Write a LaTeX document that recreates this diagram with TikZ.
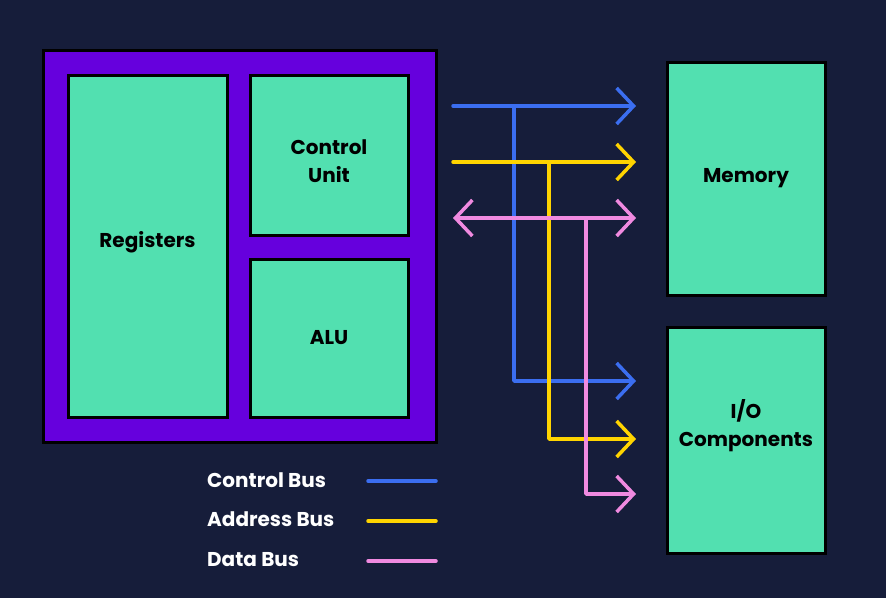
\documentclass[tikz,border=0pt]{standalone}
\usepackage{fontspec}
\setmainfont{Poppins}
\usetikzlibrary{arrows.meta}
\definecolor{navy}{HTML}{161D3A}
\definecolor{cpupurple}{HTML}{6600DD}
\definecolor{boxgreen}{HTML}{52E0B0}
\definecolor{busblue}{HTML}{3B6EF0}
\definecolor{busyellow}{HTML}{FFD400}
\definecolor{buspink}{HTML}{F08AE0}
\newcommand{\tipsize}{Straight Barb[length=17pt,width=36pt]}

\begin{document}
\begin{tikzpicture}[x=1pt,y=-1pt]
\tikzstyle{unit}=[draw=black,
                  fill=boxgreen,
                  line width=3pt,
                  inner sep=0pt,
                  align=center,
                  font=\bfseries\fontsize{20}{28}\selectfont
                  ]
\tikzstyle{unittext}=[inner sep=0pt, align=center,
                      font=\bfseries\fontsize{20}{28}\selectfont]
\tikzstyle{bus}=[line width=3.5pt, line cap=round, line join=round]
\tikzstyle{legend}=[anchor=west, text=white, inner sep=0pt,
                    font=\bfseries\fontsize{20}{28}\selectfont]
\fill[navy] (0,0) rectangle (886,598);
% processor
\draw[line width=3pt, fill=cpupurple] (43,50) rectangle (436,442);
\node[unit, minimum width=159, minimum height=342] (reg) at (147.5,246) {};
\node[unittext] (regtext) at (147.5,242) {Registers};
\node[unit, minimum width=158, minimum height=160] (cu) at (329,155) {};
\node[unittext] (cutext) at (329,161) {Control\\Unit};
\node[unit, minimum width=158, minimum height=158] (alu) at (329,338) {ALU};
% memory and i/o
\node[unit, minimum width=158, minimum height=233] (mem) at (746,178.5) {Memory};
\node[unit, minimum width=158, minimum height=226] (io) at (746,440) {};
\node[unittext] (iotext) at (746,426) {I/O\\Components};
% bus points
\coordinate (cb0) at (453,106);  \coordinate (cb1) at (636,106);
\coordinate (cbj) at (514,106);  \coordinate (cb2) at (636,381);
\coordinate (ab0) at (453,162);  \coordinate (ab1) at (636,162);
\coordinate (abj) at (549,162);  \coordinate (ab2) at (636,439);
\coordinate (db0) at (453,218);  \coordinate (db1) at (636,218);
\coordinate (dbj) at (586,218);  \coordinate (db2) at (636,494);
% buses
\draw[bus, busblue, -{\tipsize}] (cb0) -- (cb1);
\draw[bus, busblue, -{\tipsize}] (cbj) |- (cb2);
\draw[bus, busyellow, -{\tipsize}] (ab0) -- (ab1);
\draw[bus, busyellow, -{\tipsize}] (abj) |- (ab2);
\draw[bus, buspink, {\tipsize}-{\tipsize}] (db0) -- (db1);
\draw[bus, buspink, -{\tipsize}] (dbj) |- (db2);
% legend
\node[legend] (lcb) at (207,480) {Control Bus};
\node[legend] (lab) at (207,519) {Address Bus};
\node[legend] (ldb) at (207,560) {Data Bus};
\coordinate (lcb0) at (368,481); \coordinate (lcb1) at (436,481);
\coordinate (lab0) at (368,521); \coordinate (lab1) at (436,521);
\coordinate (ldb0) at (368,561); \coordinate (ldb1) at (436,561);
\draw[bus, busblue] (lcb0) -- (lcb1);
\draw[bus, busyellow] (lab0) -- (lab1);
\draw[bus, buspink] (ldb0) -- (ldb1);
\end{tikzpicture}
\end{document}
